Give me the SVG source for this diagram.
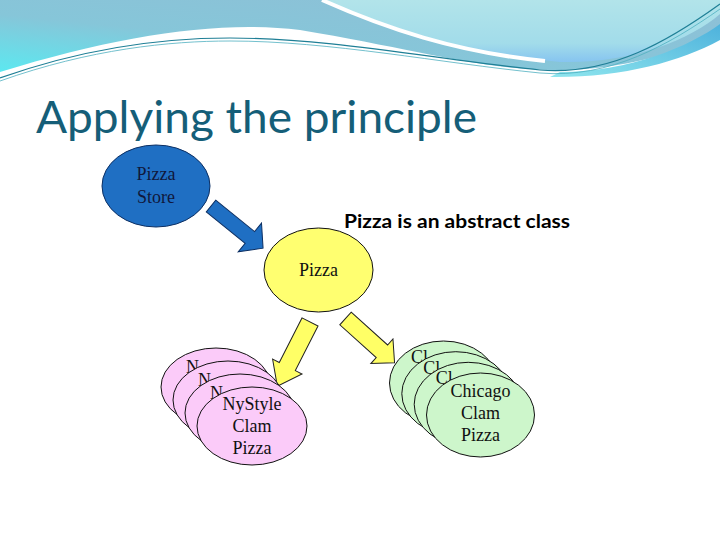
<svg xmlns="http://www.w3.org/2000/svg" width="720" height="540" viewBox="0 0 720 540">
<defs>
<linearGradient id="hdr" x1="1" y1="0" x2="0" y2="1">
<stop offset="0" stop-color="#8fbfd6"/>
<stop offset="0.6" stop-color="#86c6d9"/>
<stop offset="1" stop-color="#5ce8f0"/>
</linearGradient>
<linearGradient id="bub" x1="0" y1="0" x2="0" y2="1">
<stop offset="0" stop-color="#b2e4ea"/>
<stop offset="0.7" stop-color="#a2dcea"/>
<stop offset="1" stop-color="#86c4f0"/>
</linearGradient>
<linearGradient id="band" x1="0" y1="1" x2="1" y2="0">
<stop offset="0" stop-color="#8fe6ee"/>
<stop offset="1" stop-color="#4eb2dc"/>
</linearGradient>
</defs>
<style>
.lbl{font-family:"Liberation Serif","Times New Roman",serif;font-size:18px;fill:#111;text-anchor:middle}
.frag{font-family:"Liberation Serif","Times New Roman",serif;font-size:18px;fill:#111}
.node{stroke:#111;stroke-width:1}
.pink{fill:#fbcbf9}
.green{fill:#cdf6cb}
.yarrow{fill:#ffff66;stroke:#222;stroke-width:1}
</style>
<rect width="720" height="540" fill="#ffffff"/>
<!-- header decoration -->
<path d="M0,0 H720 V36 C680,52 620,70 560,70 C480,70 420,50 300,30 C220,20 120,35 0,72 Z" fill="url(#hdr)"/>
<path d="M560,72 C630,72 690,46 720,24 V40 C680,62 620,78 550,77 Z" fill="url(#band)"/>
<path d="M325,0 C390,28 460,52 560,62 C630,64 690,40 720,14 V0 Z" fill="url(#bub)"/>
<path d="M322,0 C385,28 455,52 545,61" fill="none" stroke="#ffffff" stroke-width="4"/>
<path d="M0,78 C90,46 170,38 230,38 C330,38 440,60 540,70 C610,76 670,40 720,4" fill="none" stroke="#1f7f96" stroke-width="1.2"/>
<path d="M0,81 C90,49 170,41 230,41 C330,41 440,63 540,73 C610,79 670,44 720,9" fill="none" stroke="#4fb0c0" stroke-width="0.8"/>
<text x="36" y="133" font-family="Lato,'Open Sans',sans-serif" font-size="45" fill="#155e78" textLength="441" lengthAdjust="spacingAndGlyphs">Applying the principle</text>
<text x="344" y="228" font-family="Lato,'Open Sans',sans-serif" font-size="19" font-weight="bold" fill="#000" textLength="226" lengthAdjust="spacingAndGlyphs">Pizza is an abstract class</text>
<g id="connectors">
<path transform="translate(211,206) rotate(39)" d="M0,-7.5 H50 V-18.5 L67,0 L50,18.5 V7.5 H0 Z" fill="#1f6fc3" stroke="#0c2f63" stroke-width="1"/>
<path class="yarrow" transform="translate(310,322) rotate(117)" d="M0,-9 H50 V-16.5 L72,0 L50,16.5 V9 H0 Z"/>
<path class="yarrow" transform="translate(345.5,318.5) rotate(42)" d="M0,-8.5 H49 V-16.5 L66,0 L49,16.5 V8.5 H0 Z"/>
</g>
<g id="pizza-store">
<ellipse cx="156" cy="186" rx="54" ry="41" fill="#1f6fc3" stroke="#0c2f63" stroke-width="1"/>
<text class="lbl" x="156" y="180" style="fill:#10183c">Pizza</text>
<text class="lbl" x="156" y="203" style="fill:#10183c">Store</text>
</g>
<g id="pizza">
<ellipse class="node" cx="318.5" cy="270" rx="54.5" ry="42" fill="#ffff70"/>
<text class="lbl" x="318.5" y="276">Pizza</text>
</g>
<g id="nystyle-1">
<ellipse class="node pink" cx="216" cy="387" rx="55" ry="39"/>
<text class="frag" x="186" y="373">N</text>
</g>
<g id="nystyle-2">
<ellipse class="node pink" cx="228" cy="400" rx="55" ry="39"/>
<text class="frag" x="198" y="386">N</text>
</g>
<g id="nystyle-3">
<ellipse class="node pink" cx="240" cy="413" rx="55" ry="39"/>
<text class="frag" x="210" y="399">N</text>
</g>
<g id="nystyle-4">
<ellipse class="node pink" cx="252" cy="426" rx="55" ry="39"/>
<text class="lbl" x="252" y="410">NyStyle</text><text class="lbl" x="252" y="432">Clam</text><text class="lbl" x="252" y="454">Pizza</text>
</g>
<g id="chicago-1">
<ellipse class="node green" cx="443.5" cy="383" rx="54" ry="42"/>
<text class="frag" x="411" y="363">Cl</text>
</g>
<g id="chicago-2">
<ellipse class="node green" cx="455.8" cy="393.7" rx="54" ry="42"/>
<text class="frag" x="423.3" y="373.7">Cl</text>
</g>
<g id="chicago-3">
<ellipse class="node green" cx="468.2" cy="404.3" rx="54" ry="42"/>
<text class="frag" x="435.7" y="384.3">Cl</text>
</g>
<g id="chicago-4">
<ellipse class="node green" cx="480.5" cy="415" rx="54" ry="42"/>
<text class="lbl" x="480.5" y="397">Chicago</text><text class="lbl" x="480.5" y="419">Clam</text><text class="lbl" x="480.5" y="441">Pizza</text>
</g>
</svg>
